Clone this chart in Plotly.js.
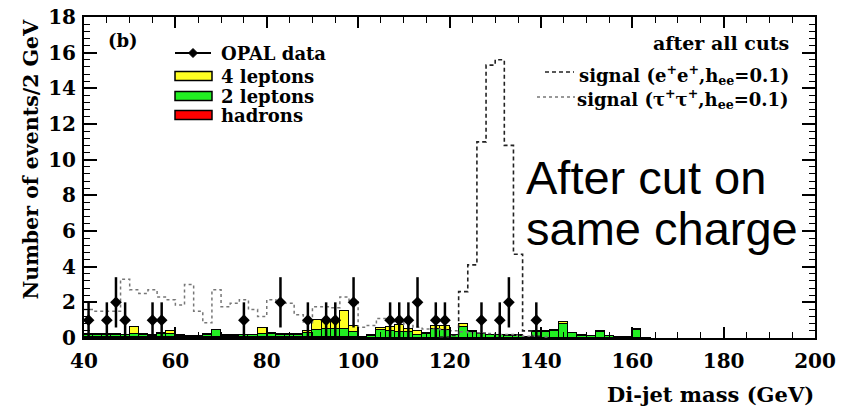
<!DOCTYPE html>
<html>
<head>
<meta charset="utf-8">
<script src="https://cdn.plot.ly/plotly-3.0.1.min.js"></script>
<style>html,body{margin:0;padding:0;background:#fff;}#chart{width:846px;height:410px;}</style>
</head>
<body>
<div id="chart"></div>
<script>
// Bin centres (2 GeV bins) for the background histograms
const bins = [41,43,45,47,49,51,53,55,57,59,61,63,65,67,69,71,73,75,77,79,81,83,85,87,89,91,93,95,97,99,101,103,105,107,109,111,113,115,117,119,121,123,125,127,129,131,133,135,137,139,141,143,145,147,149,151,153,155,157,159,161,163];
const hadrons = [0.03,0.03,0.03,0.03,0.03,0.03,0.03,0.03,0.03,0.03,0.03,0.03,0.03,0.03,0.03,0.03,0.03,0.03,0.03,0.03,0.03,0.03,0.03,0.03,0.03,0.03,0.03,0.03,0.03,0.03,0.01,0.01,0.01,0.01,0.01,0.01,0.01,0.01,0.01,0.01,0.01,0.01,0.01,0.01,0.01,0.01,0.01,0.01,0.01,0.01,0.01,0.01,0.01,0.01,0.01,0.01,0.01,0.01,0.01,0.01,0.01,0];
const twoLeptons = [0.15,0.15,0.15,0.15,0.12,0.2,0.15,0.1,0.2,0.2,0.1,0.1,0.1,0.15,0.4,0.1,0.1,0.12,0.12,0.2,0.2,0.15,0.15,0.15,0.25,0.4,0.5,0.5,0.45,0.3,0.02,0.1,0.45,0.4,0.35,0.3,0.15,0.2,0.5,0.45,0.15,0.6,0.3,0.2,0.15,0.15,0.1,0.1,0.03,0.3,0.3,0.4,0.8,0.25,0.12,0.08,0.33,0.08,0.06,0.06,0.45,0];
const fourLeptons = [0.02,0.02,0.02,0.02,0,0.37,0.02,0.02,0.07,0.14,0.02,0,0,0.02,0.04,0.02,0.02,0.02,0.02,0.33,0.07,0.04,0.04,0.04,0.12,0.59,0.49,0.42,1.01,0.32,0,0.04,0.1,0.19,0.39,0.19,0.21,0.07,0.14,0.19,0.03,0.17,0.06,0.04,0.03,0.03,0.04,0.04,0,0.06,0.06,0.06,0.08,0.02,0.02,0.01,0.03,0.01,0.01,0.01,0.04,0];

// Signal (e+e+) histogram
const sigEeBins = [119,121,123,125,127,129,131,133,135,137,139];
const sigEe = [0.05,0.15,2.6,4.1,11.0,15.3,15.6,10.8,4.7,0.4,0.1];

// Signal (tau+tau+) histogram
const sigTauBins = [41,43,45,47,49,51,53,55,57,59,61,63,65,67,69,71,73,75,77,79,81,83,85,87,89,91,93,95,97,99,101,103,105,107,109,111,113,115,117,119,121,123,125,127,129,131,133,135,137,139,141];
const sigTau = [1.6,1.5,1.5,1.5,3.3,2.7,2.5,2.7,2.3,2.15,1.85,3.0,1.5,0.85,2.7,1.75,1.95,2.15,1.6,1.2,2.15,1.95,1.95,1.3,0.85,1.75,1.75,1.7,2.3,2.1,0.6,0.7,1.1,1.1,0.9,0.75,0.6,0.5,0.5,0.45,0.4,0.35,0.3,0.3,0.25,0.2,0.2,0.15,0.1,0.1,0.05];

// OPAL data
const dataX = [41,45,47,49,55,57,75,83,89,93,95,99,107,109,111,113,117,119,127,131,133,139];
const dataY = [1,1,2,1,1,1,1,2,1,1,1,2,1,1,1,2,1,1,1,1,2,1];
const dataErr = [1,1,1.41,1,1,1,1,1.41,1,1,1,1.41,1,1,1,1.41,1,1,1,1,1.41,1];

const binWidth = 2;
function stepXY(centres, vals, closeToZero) {
  const xs = [], ys = [];
  if (closeToZero) { xs.push(centres[0] - binWidth/2); ys.push(0); }
  centres.forEach((c, i) => { xs.push(c - binWidth/2); ys.push(vals[i]); });
  const last = centres[centres.length-1] + binWidth/2;
  xs.push(last); ys.push(vals[vals.length-1]);
  if (closeToZero) { xs.push(last); ys.push(0); }
  return {xs, ys};
}

const serif = 'DejaVu Serif, Liberation Serif, serif';
const barLine = {color:'#000', width:1};
const traces = [
  {type:'bar', x:bins, y:hadrons, width:binWidth, marker:{color:'#ff0000', line:barLine}, name:'hadrons', showlegend:false, hoverinfo:'skip'},
  {type:'bar', x:bins, y:twoLeptons, width:binWidth, marker:{color:'#22ee22', line:barLine}, name:'2 leptons', showlegend:false, hoverinfo:'skip'},
  {type:'bar', x:bins, y:fourLeptons, width:binWidth, marker:{color:'#ffff22', line:barLine}, name:'4 leptons', showlegend:false, hoverinfo:'skip'},
];
const tau = stepXY(sigTauBins, sigTau, false);
traces.push({type:'scatter', mode:'lines', x:tau.xs, y:tau.ys, line:{shape:'hv', dash:'dot', color:'#777', width:1.5}, showlegend:false, hoverinfo:'skip'});
const ee = stepXY(sigEeBins, sigEe, true);
traces.push({type:'scatter', mode:'lines', x:ee.xs, y:ee.ys, line:{shape:'hv', dash:'4px,3px', color:'#222', width:1.6}, showlegend:false, hoverinfo:'skip'});
traces.push({type:'scatter', mode:'markers', x:dataX, y:dataY, marker:{symbol:'diamond', size:9, color:'#000'},
  error_y:{type:'data', array:dataErr, visible:true, color:'#000', thickness:2.5, width:0}, showlegend:false, hoverinfo:'skip'});

// helpers for legend (paper coords)
const PX0 = 84, PW = 731, PY0 = 338, PH = 321;
const xp = px => (px - PX0) / PW;
const yp = py => (PY0 - py) / PH;

const shapes = [];
const annotations = [];
// left legend
shapes.push({type:'line', xref:'paper', yref:'paper', x0:xp(175), x1:xp(211), y0:yp(53), y1:yp(53), line:{color:'#000', width:2}});
const dx = 4.5/PW, dy = 4.5/PH, cx = xp(193), cy = yp(53);
shapes.push({type:'path', xref:'paper', yref:'paper', path:`M${cx-dx},${cy} L${cx},${cy+dy} L${cx+dx},${cy} L${cx},${cy-dy} Z`, fillcolor:'#000', line:{color:'#000', width:1}});
[[76,'#ffff22'],[96,'#22ee22'],[115,'#ff0000']].forEach(([py,col]) => {
  shapes.push({type:'rect', xref:'paper', yref:'paper', x0:xp(175), x1:xp(212), y0:yp(py-4.5), y1:yp(py+4.5), fillcolor:col, line:{color:'#000', width:1.5}});
});
const legFont = {family:serif, size:18, color:'#000', weight:700};
[[53,'OPAL data'],[76,'4 leptons'],[96,'2 leptons'],[115,'hadrons']].forEach(([py,t]) => {
  annotations.push({xref:'paper', yref:'paper', x:xp(219), y:yp(py), xanchor:'left', yanchor:'middle', text:t, showarrow:false, font:legFont});
});
annotations.push({xref:'paper', yref:'paper', x:xp(106), y:yp(40), xanchor:'left', yanchor:'middle', text:'(b)', showarrow:false, font:legFont});
// right legend
annotations.push({xref:'paper', yref:'paper', x:xp(791), y:yp(43), xanchor:'right', yanchor:'middle', text:'after all cuts', showarrow:false, font:{family:serif, size:19, color:'#000', weight:700}});
annotations.push({xref:'paper', yref:'paper', x:xp(791), y:yp(75), xanchor:'right', yanchor:'middle', text:'signal (e<sup>+</sup>e<sup>+</sup>,h<sub>ee</sub>=0.1)', showarrow:false, font:legFont});
annotations.push({xref:'paper', yref:'paper', x:xp(791), y:yp(99), xanchor:'right', yanchor:'middle', text:'signal (τ<sup>+</sup>τ<sup>+</sup>,h<sub>ee</sub>=0.1)', showarrow:false, font:legFont});
shapes.push({type:'line', xref:'paper', yref:'paper', x0:xp(545), x1:xp(574), y0:yp(72), y1:yp(72), line:{color:'#222', width:1.6, dash:'4px,3px'}});
shapes.push({type:'line', xref:'paper', yref:'paper', x0:xp(537), x1:xp(575), y0:yp(97), y1:yp(97), line:{color:'#777', width:1.5, dash:'dot'}});
// axis titles
annotations.push({xref:'paper', yref:'paper', x:xp(30), y:yp(17), xanchor:'center', yanchor:'top', textangle:-90, text:'Number of events/2 GeV', showarrow:false, font:{family:serif, size:20.5, color:'#000', weight:700}});
annotations.push({xref:'paper', yref:'paper', x:xp(816), y:yp(395), xanchor:'right', yanchor:'middle', text:'Di-jet mass (GeV)', showarrow:false, font:{family:serif, size:21, color:'#000', weight:700}});
// big overlay text
const bigFont = {family:'Liberation Sans, Arial, sans-serif', size:47, color:'#000'};
annotations.push({xref:'paper', yref:'paper', x:xp(524), y:yp(177), xanchor:'left', yanchor:'middle', text:'After cut on', showarrow:false, font:bigFont});
annotations.push({xref:'paper', yref:'paper', x:xp(524), y:yp(228), xanchor:'left', yanchor:'middle', text:'same charge', showarrow:false, font:bigFont});

const tickFont = {family:serif, size:20, color:'#000', weight:700};
const layout = {
  width:846, height:410,
  margin:{l:84, r:31, t:17, b:72},
  paper_bgcolor:'#fff', plot_bgcolor:'#fff',
  barmode:'stack', bargap:0,
  showlegend:false,
  xaxis:{range:[40,200], dtick:20, tick0:40, ticks:'inside', ticklen:11, tickwidth:1.5, tickcolor:'#000',
    minor:{dtick:5, ticks:'inside', ticklen:6, tickwidth:1.2, tickcolor:'#000'},
    showline:true, linecolor:'#000', linewidth:2, mirror:'ticks', showgrid:false, zeroline:false,
    tickfont:tickFont, ticklabelstandoff:4},
  yaxis:{range:[0,18], dtick:2, tick0:0, ticks:'inside', ticklen:13, tickwidth:1.5, tickcolor:'#000',
    minor:{dtick:0.4, ticks:'inside', ticklen:6, tickwidth:1.2, tickcolor:'#000'},
    showline:true, linecolor:'#000', linewidth:2, mirror:'ticks', showgrid:false, zeroline:false,
    tickfont:tickFont, ticklabelstandoff:2},
  shapes, annotations
};
Plotly.newPlot('chart', traces, layout, {displayModeBar:false});
</script>
</body>
</html>
